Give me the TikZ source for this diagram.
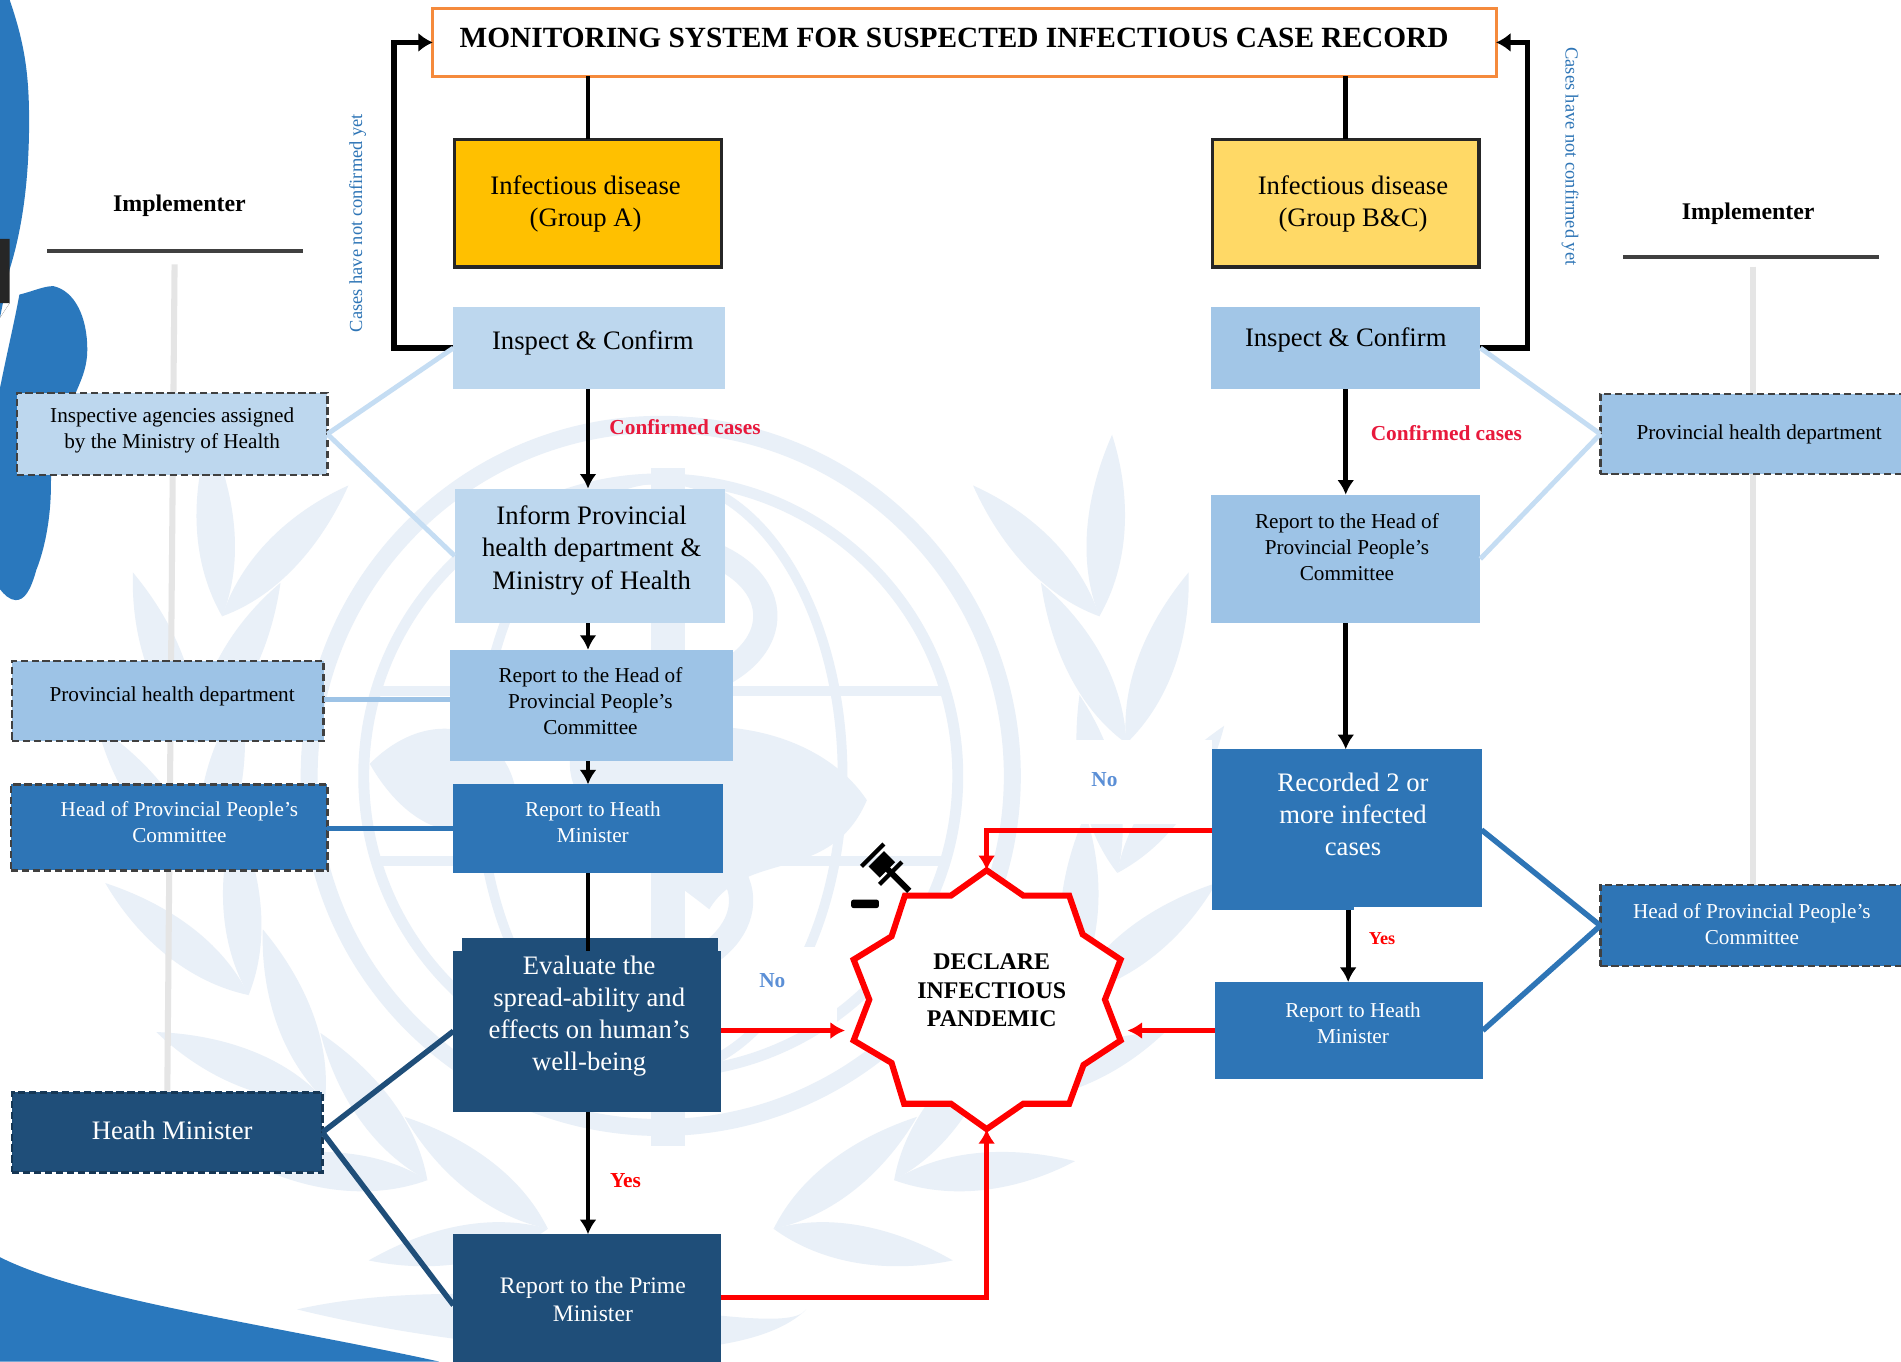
\documentclass[tikz,border=0pt]{standalone}
\usepackage{fontspec}
\setmainfont{Liberation Serif}
\usetikzlibrary{arrows.meta}
\definecolor{wmc}{HTML}{E9F0F8}
\definecolor{blob}{HTML}{2A78BD}
\definecolor{pale}{HTML}{BDD7EE}
\definecolor{lite}{HTML}{9DC3E6}
\definecolor{midb}{HTML}{2E75B6}
\definecolor{darkb}{HTML}{1F4E79}
\definecolor{gold}{HTML}{FFC000}
\definecolor{sand}{HTML}{FFD966}
\definecolor{orng}{HTML}{F58A3C}
\definecolor{crim}{HTML}{E8193C}
\definecolor{nob}{HTML}{5B8FD6}
\definecolor{linklite}{HTML}{C5DDF3}
\newcommand\fz[2]{\fontsize{#1}{#2}\selectfont}
\newcommand\bx[6]{%
  \pgfmathsetmacro\bxw{#4-#2}\pgfmathsetmacro\bxh{#5-#3}%
  \pgfmathsetmacro\bxx{(#2+#4)/2}\pgfmathsetmacro\bxy{(#3+#5)/2}%
  \node[boxbase,#6,minimum width=\bxw pt,minimum height=\bxh pt] (#1) at (\bxx,\bxy) {};}
\newcommand\leafpath{(0,0) .. controls (45,-22) and (100,-20) .. (150,0) .. controls (100,18) and (45,22) .. (0,0)}
\tikzset{
  boxbase/.style={rectangle,inner sep=0pt,outer sep=0pt},
  gA/.style={fill=gold,draw=black!85,line width=3pt},
  gB/.style={fill=sand,draw=black!85,line width=3pt},
  paleb/.style={fill=pale},
  liteb/.style={fill=lite},
  midbx/.style={fill=midb},
  darkbx/.style={fill=darkb},
  dashbox/.style={draw=black!75,dashed,dash pattern=on 6pt off 3pt,line width=2pt},
  txt/.style={align=center,inner sep=0pt,text=black,yshift=-2pt},
  wtxt/.style={align=center,inner sep=0pt,text=white,yshift=-2pt},
  small/.style={font=\fz{17.5}{21.5}},
  big/.style={font=\fz{22}{26.5}},
  flow/.style={line width=4pt,draw=black},
  flowa/.style={flow,-{Latex[length=12pt,width=14pt]}},
  loopa/.style={line width=4.5pt,draw=black,-{Latex[length=12pt,width=16pt]}},
  reda/.style={line width=4.5pt,draw=red,-{Latex[length=12pt,width=14pt]}},
  redl/.style={line width=5pt,draw=red,line join=miter},
  link/.style={line width=4pt,draw=linklite},
  linkm/.style={line width=4.5pt,draw=midb},
  linkd/.style={line width=4.5pt,draw=darkb},
  linkp/.style={line width=4.5pt,draw=lite},
  spine/.style={line width=5pt,draw=black!10},
  wm/.style={fill=wmc,draw=none},
  wml/.style={draw=wmc,fill=none},
  side/.style={text=midb,font=\fz{15.2}{18},inner sep=0pt},
  lab/.style={inner sep=0pt,yshift=-1pt,font=\bfseries\fz{17.6}{20}},
}
\begin{document}
\begin{tikzpicture}[x=1pt,y=-1pt]
\path[use as bounding box] (0,0) rectangle (1568,1123);
\clip (0,0) rectangle (1568,1123);
\fill[white] (0,0) rectangle (1568,1123);
% ---------- watermark
\begin{scope}[shift={(545,640)}]
  \foreach \sx in {1,-1}{
    \begin{scope}[xscale=\sx]
      \foreach \t in {14,30,46,62,78,94,110}{
        \fill[wm,shift={({-385*sin(\t)},{385*cos(\t)})},rotate={180-\t+24}] \leafpath;
        \fill[wm,shift={({-385*sin(\t)},{385*cos(\t)})},rotate={180-\t-24}] \leafpath;
      }
    \end{scope}
  }
  \draw[wml,line width=14pt] (0,0) circle (290);
  \draw[wml,line width=9pt] (0,0) circle (245);
  \draw[wml,line width=8pt] (0,0) ellipse (150 and 245);
  \draw[wml,line width=8pt] (-235,-70) -- (235,-70);
  \draw[wml,line width=8pt] (-235,70) -- (235,70);
  \fill[wm] (-8,-254) rectangle (20,305);
  \draw[wml,line width=20pt] (20,-190) .. controls (110,-170) and (110,-90) .. (10,-70)
     .. controls (-90,-50) and (-90,30) .. (10,50) .. controls (90,70) and (80,140) .. (10,160);
  \fill[wm] (-60,-20) .. controls (30,-60) and (130,-40) .. (170,20) .. controls (140,90) and (70,60) .. (40,110) .. controls (-10,70) and (-70,40) .. (-60,-20);
  \fill[wm] (-240,-10) .. controls (-190,-60) and (-130,-40) .. (-120,10) .. controls (-140,60) and (-200,60) .. (-240,-10);
  \fill[wm] (-300,440) .. controls (-120,400) and (100,470) .. (120,440) .. controls (60,500) and (-180,470) .. (-300,440);
\end{scope}
% ---------- background blobs
\fill[blob] (0,0) -- (8,0) .. controls (20,35) and (24,60) .. (24,100) .. controls (24,150) and (18,190) .. (8,222) -- (0,262) -- cycle;
\fill[black!85] (0,197) rectangle (8,250) -- (0,262) -- cycle;
\fill[blob] (0,320) .. controls (6,290) and (12,265) .. (16,243) .. controls (28,240) and (36,236) .. (44,236)
   .. controls (62,240) and (72,262) .. (72,288) .. controls (72,305) and (66,315) .. (60,330)
   .. controls (48,350) and (42,380) .. (42,400) .. controls (42,430) and (36,455) .. (30,470)
   .. controls (25,488) and (20,495) .. (13,495) .. controls (8,495) and (3,490) .. (0,486) -- cycle;
\fill[blob] (0,1037) .. controls (70,1072) and (220,1092) .. (362,1123) -- (0,1123) -- cycle;
% ---------- white patches
\fill[white] (619,781) rectangle (690,850);
\fill[white] (870,610) rectangle (1000,680);
% ---------- side spines
\coordinate (spL0) at (144,218);
\coordinate (spL1) at (138,901);
\coordinate (spR0) at (1446,220);
\coordinate (spR1) at (1446,730);
\draw[spine] (spL0) -- (spL1);
\draw[spine] (spR0) -- (spR1);
% ---------- boxes
\bx{title}{357}{7}{1234}{63}{fill=white,draw=orng,line width=2.5pt}
\bx{grpA}{375}{115}{595}{220}{gA}
\bx{grpB}{1000}{115}{1220}{220}{gB}
\bx{insA}{374}{253}{598}{321}{paleb}
\bx{insB}{999}{253}{1221}{321}{fill=lite!85!pale}
\bx{informA}{375}{403}{598}{514}{paleb}
\bx{reportB}{999}{408}{1221}{514}{liteb}
\bx{headRep}{371}{536}{605}{628}{liteb}
\bx{minA}{374}{647}{596}{720}{midbx}
\fill[darkb] (381,774) rectangle (592,790);
\bx{evalA}{374}{784}{595}{917}{darkbx}
\bx{primeA}{374}{1018}{595}{1135}{darkbx}
\bx{recB}{1000}{618}{1222}{751}{midbx}
\fill[white] (1117,748) rectangle (1224,753);
\bx{minB}{1002}{810}{1223}{890}{midbx}
\bx{agency}{14}{324}{270}{392}{paleb,dashbox}
\bx{provA}{10}{545}{267}{611}{liteb,dashbox}
\bx{headA}{9}{647}{270}{718}{midbx,dashbox}
\bx{hMin}{10}{901}{266}{967}{darkbx,dashbox,draw=darkb!70!black}
\bx{provB}{1320}{325}{1575}{391}{liteb,dashbox}
\bx{headB}{1320}{730}{1575}{797}{midbx,dashbox}
% ---------- implementer headers
\node[inner sep=0pt,yshift=-2pt,font=\bfseries\fz{19.7}{23}] (implL) at (148,168) {Implementer};
\node[inner sep=0pt,yshift=-2pt,font=\bfseries\fz{19.7}{23}] (implR) at (1442,174) {Implementer};
\coordinate (ruleL0) at (39,207);\coordinate (ruleL1) at (250,207);
\coordinate (ruleR0) at (1339,212);\coordinate (ruleR1) at (1550,212);
\draw[line width=3pt,draw=black!75] (ruleL0) -- (ruleL1);
\draw[line width=3pt,draw=black!75] (ruleR0) -- (ruleR1);
% ---------- flow connectors
\draw[flow] (grpA.north) -- (grpA.north |- title.south);
\draw[flow] (grpB.north) -- (grpB.north |- title.south);
\coordinate (loopL) at (325,35);
\coordinate (loopR) at (1260,35);
\draw[loopa] (insA.west) -| (loopL) -- (title.west);
\draw[loopa] (insB.east) -| (loopR) -- (title.east);
\draw[flowa] (grpA.north |- insA.south) -- (grpA.north |- informA.north);
\draw[flowa] (grpB.north |- insB.south) -- (grpB.north |- reportB.north);
\draw[flowa] (grpA.north |- informA.south) -- (grpA.north |- headRep.north);
\draw[flowa] (grpA.north |- headRep.south) -- (grpA.north |- minA.north);
\draw[flow] (grpA.north |- minA.south) -- (grpA.north |- evalA.north);
\draw[flowa] (grpA.north |- evalA.south) -- (grpA.north |- primeA.north);
\draw[flowa] (grpB.north |- reportB.south) -- (grpB.north |- recB.north);
\draw[flowa] (1112,751) -- (1112,810);
% ---------- implementer links
\draw[link] (agency.east) -- (insA.west);
\draw[link] (agency.east) -- (informA.west);
\draw[linkp] (provA.east |- 0,577) -- (headRep.west |- 0,577);
\draw[linkm] (headA.east |- minA.west) -- (minA.west);
\draw[linkd] (hMin.east) -- (evalA.west);
\draw[linkd] (hMin.east) -- (primeA.west);
\draw[link] (insB.east) -- (provB.west);
\draw[link] (reportB.east) -- (provB.west);
\draw[linkm] (recB.east) -- (headB.west);
\draw[linkm] (minB.east) -- (headB.west);
% ---------- declare star
\coordinate (stTop) at (813.8,717.8);
\coordinate (stBot) at (813.8,931.3);
\coordinate (stLeft) at (697,850);
\coordinate (stRight) at (930,850);
\filldraw[fill=white,redl] (stTop) -- (844,738.7) -- (881.9,738.7) -- (893,770.7) -- (924.3,791.5) -- (911.4,824.5) -- (924.3,858.2)
  -- (893.7,878.4) -- (881.9,910.4) -- (844,910.4) -- (stBot) -- (784.4,910.4) -- (745.7,910.4) -- (735.4,876.7)
  -- (704.1,858.2) -- (717,824.5) -- (704.1,791.5) -- (735.4,772.3) -- (746.4,738.7) -- (784.4,738.7) -- cycle;
\node[align=center,inner sep=0pt,yshift=-2pt,font=\bfseries\fz{19.7}{23.5}] (declare) at (818,815) {DECLARE\\INFECTIOUS\\PANDEMIC};
% gavel
\begin{scope}[shift={(727,714)},rotate=-45]
  \fill[black] (0,-4) rectangle (31,1);
  \fill[black] (-7,-10) rectangle (6,8);
  \fill[black] (-13,-14) rectangle (-9.5,12);
  \fill[black] (8,-14) rectangle (11.5,12);
\end{scope}
\fill[black,rounded corners=2pt] (702,742) rectangle (725,749);
% red connectors
\draw[reda] (recB.west |- 0,685) -| (stTop);
\draw[reda] (evalA.east |- stLeft) -- (stLeft);
\draw[reda] (minB.west |- stRight) -- (stRight);
\draw[reda] (primeA.east |- 0,1070) -| (stBot);
% ---------- box texts
\node[inner sep=0pt,font=\bfseries\fz{24.2}{30}] (titleT) at (787,31) {MONITORING SYSTEM FOR SUSPECTED INFECTIOUS CASE RECORD};
\node[txt,big] (grpAT) at (483,166) {Infectious disease\\(Group A)};
\node[txt,big] (grpBT) at (1116,166) {Infectious disease\\(Group B\&C)};
\node[txt,big] (insAT) at (489,281) {Inspect \& Confirm};
\node[txt,big] (insBT) at (1110,278) {Inspect \& Confirm};
\node[txt,font=\fz{22}{26.5}] (informT) at (488,452) {Inform Provincial\\health department \&\\Ministry of Health};
\node[txt,small] (reportBT) at (1111,449) {Report to the Head of\\Provincial People’s\\Committee};
\node[txt,small] (headRepT) at (487,576) {Report to the Head of\\Provincial People’s\\Committee};
\node[wtxt,small] (minAT) at (489,676) {Report to Heath\\Minister};
\node[wtxt,big] (evalT) at (486,836) {Evaluate the\\spread-ability and\\effects on human’s\\well-being};
\node[wtxt,font=\fz{19.5}{23}] (primeT) at (489,1070) {Report to the Prime\\Minister};
\node[wtxt,big] (recT) at (1116,670) {Recorded 2 or\\more infected\\cases};
\node[wtxt,small] (minBT) at (1116,842) {Report to Heath\\Minister};
\node[txt,small] (agencyT) at (142,353) {Inspective agencies assigned\\by the Ministry of Health};
\node[txt,small] (provAT) at (142,572) {Provincial health department};
\node[wtxt,small] (headAT) at (148,676) {Head of Provincial People’s\\Committee};
\node[wtxt,big] (hMinT) at (142,930) {Heath Minister};
\node[txt,small] (provBT) at (1451,356) {Provincial health department};
\node[wtxt,small] (headBT) at (1445,760) {Head of Provincial People’s\\Committee};
% ---------- labels
\node[side,rotate=90] (sideL) at (295,184) {Cases have not confirmed yet};
\node[side,rotate=-90] (sideR) at (1295,129) {Cases have not confirmed yet};
\node[lab,text=crim] (confA) at (565,351) {Confirmed cases};
\node[lab,text=crim] (confB) at (1193,356) {Confirmed cases};
\node[lab,text=red] (yesA) at (516,973) {Yes};
\node[lab,text=red,font=\bfseries\fz{15}{18}] (yesB) at (1140,773) {Yes};
\node[lab,text=nob] (noA) at (637,808) {No};
\node[lab,text=nob] (noB) at (911,642) {No};
\end{tikzpicture}
\end{document}
